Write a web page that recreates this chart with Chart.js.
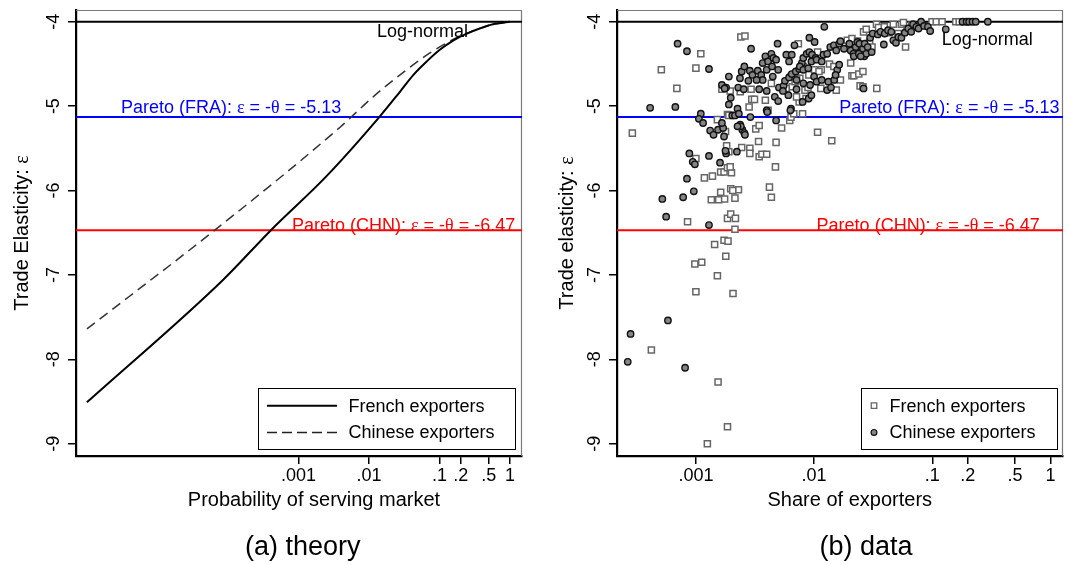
<!DOCTYPE html>
<html>
<head>
<meta charset="utf-8">
<title>Trade elasticity: theory and data</title>
<script src="https://cdn.jsdelivr.net/npm/chart.js@4.4.1/dist/chart.umd.min.js"></script>
<style>
  html, body { margin: 0; padding: 0; background: #ffffff; }
  #wrap { position: relative; width: 1070px; height: 564px; overflow: hidden; }
  canvas { position: absolute; top: 0; }
  #theory { left: 0; }
  #data { left: 540px; }
</style>
</head>
<body>
<div id="wrap">
  <canvas id="theory" width="540" height="564"></canvas>
  <canvas id="data" width="530" height="564"></canvas>
</div>
<script>
// ---- values ---------------------------------------------------------------
// Reference elasticities
const LOG_NORMAL = -4;
const PARETO_FRA = -5.13;
const PARETO_CHN = -6.47;

// Axis ticks
const X_TICKS = [0.001, 0.01, 0.1, 0.2, 0.5, 1];
const X_TICK_LABELS = ['.001', '.01', '.1', '.2', '.5', '1'];
const Y_TICKS = [-9, -8, -7, -6, -5, -4];

// (a) theory: elasticity against probability of serving the market
const THEORY_FR_X = [1e-6, 8.5e-5, 4.07e-4, 0.0025, 0.0140, 0.0275, 0.0427, 0.0661, 0.102, 0.158, 0.245, 0.372, 0.575, 1];
const THEORY_FR_Y = [-8.51, -7.06, -6.47, -5.83, -5.13, -4.83, -4.63, -4.47, -4.33, -4.22, -4.14, -4.08, -4.03, -4.00];
const THEORY_CN_X = [1e-6, 6.5e-5, 0.00389, 0.0122, 0.0307, 0.0733, 0.175, 0.372, 0.575, 1];
const THEORY_CN_Y = [-7.64, -6.47, -5.25, -4.87, -4.60, -4.37, -4.19, -4.08, -4.03, -4.00];

// (b) data: elasticity against share of exporters, French destinations
const DATA_FR_X = [
  0.00029, 0.00051, 0.00069, 0.00100, 0.00110, 0.00240, 0.00260, 0.00085, 0.00100, 0.00098,
  0.00112, 0.00152, 0.00144, 0.00173, 0.00187, 0.00179, 0.00118, 0.00138, 0.00162, 0.00173,
  0.00185, 0.00200, 0.00195, 0.00135, 0.00162, 0.00156, 0.00175, 0.00197, 0.00214, 0.00229,
  0.00205, 0.00185, 0.00197, 0.00216, 0.00214, 0.00182, 0.00190, 0.00244, 0.00286, 0.00286,
  0.00343, 0.00362, 0.00397, 0.00339, 0.00477, 0.00471, 0.00419, 0.00435, 0.0107, 0.0141,
  0.00152, 0.00178, 0.00185, 0.00190, 0.00282, 0.00297, 0.00313, 0.00321, 0.00343, 0.00387,
  0.00435, 0.00408, 0.00166, 0.00293, 0.00237, 0.00195, 0.00531, 0.00622, 0.00638, 0.00799,
  0.00673, 0.00748, 0.00854, 0.00582, 0.00655, 0.00691, 0.00758, 0.00837, 0.00888, 0.00710,
  0.0114, 0.0154, 0.0339, 0.0245, 0.0259, 0.0209, 0.0217, 0.0239, 0.0259, 0.0204,
  0.00736, 0.00810, 0.00903, 0.0101, 0.0107, 0.0115, 0.0110, 0.0135, 0.0147, 0.0167,
  0.0191, 0.0199, 0.0209, 0.0233, 0.0262, 0.0276, 0.0295, 0.0309, 0.0337, 0.0351,
  0.0393, 0.0430, 0.0468, 0.0514, 0.0548, 0.0570, 0.0594, 0.0610, 0.0669, 0.0994,
  0.108, 0.121, 0.158, 0.169, 0.188, 0.00710, 0.00641, 0.00100, 0.00206, 0.00042,
  0.00154, 0.00185, 0.00125
];
const DATA_FR_Y = [
  -5.32, -4.57, -4.79, -4.55, -4.38, -4.18, -4.17, -6.37, -5.62, -6.87,
  -6.85, -7.01, -6.64, -6.59, -6.60, -6.78, -5.85, -5.83, -5.78, -5.78,
  -5.73, -5.79, -5.72, -6.11, -6.02, -6.11, -6.10, -5.98, -6.09, -5.99,
  -6.00, -6.33, -6.28, -6.33, -6.46, -5.47, -5.54, -5.49, -5.50, -5.56,
  -5.60, -5.57, -5.57, -5.42, -5.43, -5.72, -5.96, -6.08, -5.31, -5.41,
  -5.16, -5.30, -5.10, -5.11, -5.01, -4.92, -4.92, -5.27, -5.23, -4.93,
  -4.73, -5.05, -4.80, -4.80, -4.83, -4.82, -5.26, -5.17, -5.13, -5.09,
  -5.09, -4.95, -4.91, -4.79, -4.77, -4.71, -4.67, -4.81, -4.78, -4.89,
  -4.79, -4.81, -4.79, -4.76, -4.77, -4.64, -4.64, -4.62, -4.59, -4.49,
  -4.26, -4.53, -4.63, -4.57, -4.36, -4.57, -4.59, -4.50, -4.53, -4.69,
  -4.22, -4.30, -4.20, -4.23, -4.12, -4.09, -4.24, -4.30, -4.03, -4.07,
  -4.06, -4.13, -4.03, -4.14, -4.03, -4.01, -4.30, -4.09, -4.04, -4.00,
  -4.00, -4.00, -4.00, -4.00, -4.00, -4.67, -4.65, -7.20, -7.22, -7.89,
  -8.27, -8.80, -9.00
];

// (b) data: Chinese destinations
const DATA_CN_X = [
  0.00070, 0.00084, 0.00129, 0.00293, 0.00041, 0.00067, 0.00110, 0.00106, 0.00115, 0.00132,
  0.00141, 0.00154, 0.00170, 0.00173, 0.00166, 0.00088, 0.00129, 0.00094, 0.00098, 0.00084,
  0.00096, 0.00078, 0.00052, 0.00056, 0.00129, 0.00160, 0.00180, 0.00178, 0.00222, 0.00197,
  0.00190, 0.00203, 0.00214, 0.00225, 0.00231, 0.00237, 0.00247, 0.00257, 0.00260, 0.00240,
  0.00225, 0.00289, 0.00166, 0.00180, 0.00190, 0.00175, 0.00236, 0.00244, 0.00257, 0.00286,
  0.00301, 0.00334, 0.00357, 0.00367, 0.00343, 0.00397, 0.00326, 0.00228, 0.00254, 0.00278,
  0.00397, 0.00402, 0.00465, 0.00497, 0.00477, 0.00447, 0.00504, 0.00552, 0.00567, 0.00614,
  0.00647, 0.00700, 0.00748, 0.00788, 0.00810, 0.00865, 0.00912, 0.00961, 0.0103, 0.00367,
  0.00387, 0.00408, 0.00435, 0.00453, 0.00477, 0.00491, 0.00397, 0.00441, 0.00497, 0.00582,
  0.00614, 0.00682, 0.00647, 0.00912, 0.0101, 0.0122, 0.00758, 0.00810, 0.00892, 0.00949,
  0.0105, 0.0116, 0.0120, 0.0129, 0.0137, 0.0147, 0.0154, 0.0163, 0.0167, 0.0179,
  0.00710, 0.00606, 0.00638, 0.00630, 0.00545, 0.00900, 0.00949, 0.00799, 0.00710, 0.00810,
  0.00924, 0.0100, 0.0105, 0.0116, 0.0132, 0.0129, 0.0139, 0.0148, 0.0157, 0.0163,
  0.0152, 0.0199, 0.0204, 0.0215, 0.0225, 0.0233, 0.0242, 0.0248, 0.0259, 0.0268,
  0.0284, 0.0266, 0.0276, 0.0217, 0.0239, 0.0248, 0.0262, 0.0307, 0.0298, 0.0313,
  0.0346, 0.0365, 0.0389, 0.0396, 0.0422, 0.0450, 0.0468, 0.0493, 0.0517, 0.0548,
  0.0586, 0.0626, 0.0663, 0.0688, 0.0733, 0.0765, 0.0804, 0.0852, 0.0918, 0.0960,
  0.130, 0.180, 0.195, 0.205, 0.219, 0.233, 0.295, 0.00058, 0.00028, 0.000265,
  0.00081
];
const DATA_CN_Y = [
  -4.26, -4.35, -4.56, -4.32, -5.02, -5.01, -5.09, -5.15, -5.20, -5.29,
  -5.34, -5.28, -5.26, -5.36, -5.20, -5.56, -5.59, -5.66, -5.69, -5.86,
  -6.01, -6.08, -6.10, -6.31, -6.41, -5.67, -5.56, -5.53, -5.54, -4.90,
  -4.98, -5.11, -5.11, -5.03, -5.09, -5.22, -5.28, -5.32, -5.34, -5.24,
  -5.24, -5.13, -4.75, -4.78, -4.65, -4.79, -4.67, -4.59, -4.53, -4.58,
  -4.63, -4.58, -4.63, -4.69, -4.80, -4.82, -4.69, -4.78, -4.80, -4.70,
  -5.05, -5.07, -4.89, -4.94, -5.17, -4.65, -4.78, -4.76, -4.70, -4.66,
  -4.62, -4.59, -4.56, -4.49, -4.43, -4.38, -4.36, -4.39, -4.43, -4.49,
  -4.41, -4.47, -4.38, -4.43, -4.45, -4.26, -4.57, -4.53, -4.57, -4.39,
  -4.47, -4.28, -4.39, -4.19, -4.24, -4.06, -4.53, -4.57, -4.55, -4.47,
  -4.45, -4.47, -4.39, -4.38, -4.30, -4.28, -4.34, -4.26, -4.23, -4.32,
  -4.80, -4.87, -5.03, -5.05, -4.82, -4.91, -4.87, -4.95, -4.69, -4.73,
  -4.75, -4.65, -4.71, -4.69, -4.71, -4.81, -4.78, -4.69, -4.57, -4.51,
  -4.63, -4.26, -4.34, -4.38, -4.30, -4.24, -4.26, -4.36, -4.32, -4.26,
  -4.30, -4.41, -4.38, -4.41, -4.38, -4.41, -4.79, -4.36, -4.19, -4.14,
  -4.15, -4.12, -4.27, -4.14, -4.10, -4.12, -4.22, -4.25, -4.18, -4.19,
  -4.13, -4.08, -4.12, -4.03, -4.06, -4.08, -4.00, -4.05, -4.06, -4.11,
  -4.09, -4.00, -4.00, -4.00, -4.00, -4.00, -4.00, -7.54, -7.70, -8.03,
  -8.10
];

// ---- styling --------------------------------------------------------------
const SANS = '"Liberation Sans", Arial, Helvetica, sans-serif';
const SERIF = '"Liberation Serif", "Times New Roman", serif';
const BLUE = '#0000ff';
const RED = '#ff0000';
const Y_MIN = -9.146, Y_MAX = -3.861;

const FR_LINE = { color: '#000000', width: 2, dash: [] };
const CN_LINE = { color: '#333333', width: 1.5, dash: [10, 6] };
const FR_MARK = { style: 'rect', radius: 4.3, fill: '#ffffff', stroke: '#666666', width: 1.5 };
const CN_MARK = { style: 'circle', radius: 3.2, fill: '#858585', stroke: '#111111', width: 1.4 };

const toPoints = (xs, ys) => xs.map((x, i) => ({ x, y: ys[i] }));

function refLine(value, color, xmin, xmax) {
  return {
    data: [{ x: xmin, y: value }, { x: xmax, y: value }],
    showLine: true, borderColor: color, borderWidth: 2,
    pointRadius: 0, order: 5
  };
}

function paretoText(tag, value) {
  return [
    { t: 'Pareto (' + tag + '): ', f: SANS },
    { t: 'ε', f: SERIF },
    { t: ' = -', f: SANS },
    { t: 'θ', f: SERIF },
    { t: ' = ' + value.toFixed(2), f: SANS }
  ];
}

function richWidth(ctx, parts, size) {
  let w = 0;
  for (const p of parts) { ctx.font = size + 'px ' + p.f; w += ctx.measureText(p.t).width; }
  return w;
}

function drawRich(ctx, parts, x, y, size, color) {
  ctx.fillStyle = color;
  ctx.textAlign = 'left';
  ctx.textBaseline = 'alphabetic';
  for (const p of parts) {
    ctx.font = size + 'px ' + p.f;
    ctx.fillText(p.t, x, y);
    x += ctx.measureText(p.t).width;
  }
}

function drawMarker(ctx, m, x, y) {
  ctx.save();
  ctx.fillStyle = m.fill; ctx.strokeStyle = m.stroke; ctx.lineWidth = m.width;
  ctx.beginPath();
  if (m.style === 'rect') {
    const h = m.radius * Math.SQRT1_2;
    ctx.rect(x - h, y - h, 2 * h, 2 * h);
  } else {
    ctx.arc(x, y, m.radius, 0, Math.PI * 2);
  }
  ctx.fill(); ctx.stroke();
  ctx.restore();
}

// Frame, rotated y labels, titles, annotations and legend of one panel
function panelDecor(spec) {
  return {
    id: 'panelDecor',
    beforeDatasetsDraw(chart) {
      const { ctx, chartArea: a } = chart;
      ctx.save();
      ctx.strokeStyle = '#7a7a7a';
      ctx.lineWidth = 1.2;
      ctx.beginPath();
      ctx.moveTo(a.left, a.top + 0.5);
      ctx.lineTo(a.right - 0.5, a.top + 0.5);
      ctx.lineTo(a.right - 0.5, a.bottom);
      ctx.stroke();
      ctx.restore();
    },
    afterDraw(chart) {
      const { ctx, chartArea: a } = chart;
      const ys = chart.scales.y;
      ctx.save();

      // y tick labels, read bottom to top
      ctx.fillStyle = '#000';
      ctx.font = '18px ' + SANS;
      ctx.textAlign = 'center';
      ctx.textBaseline = 'alphabetic';
      for (const v of Y_TICKS) {
        const py = ys.getPixelForValue(v);
        ctx.save();
        ctx.translate(a.left - 16.7, py);
        ctx.rotate(-Math.PI / 2);
        ctx.fillText(String(v), 0, 0);
        ctx.restore();
      }

      // y axis title
      const yParts = [{ t: spec.yTitle, f: SANS }, { t: 'ε', f: SERIF }];
      const yw = richWidth(ctx, yParts, 20);
      ctx.save();
      ctx.translate(a.left - spec.yTitleOff, (a.top + a.bottom) / 2);
      ctx.rotate(-Math.PI / 2);
      drawRich(ctx, yParts, -yw / 2, 0, 20, '#000');
      ctx.restore();

      // x axis title and panel caption
      ctx.fillStyle = '#000';
      ctx.textAlign = 'center';
      ctx.textBaseline = 'alphabetic';
      ctx.font = '20px ' + SANS;
      ctx.fillText(spec.xTitle, spec.xTitleX, 505.5);
      ctx.font = '27px ' + SANS;
      ctx.fillText(spec.caption, spec.captionX, 555);

      // reference line labels
      const yFra = ys.getPixelForValue(PARETO_FRA);
      const yChn = ys.getPixelForValue(PARETO_CHN);
      const yLog = ys.getPixelForValue(LOG_NORMAL);
      drawRich(ctx, paretoText('FRA', PARETO_FRA), spec.fraX, yFra - 4.5, 18, BLUE);
      drawRich(ctx, paretoText('CHN', PARETO_CHN), spec.chnX, yChn + 1, 18, RED);
      drawRich(ctx, [{ t: 'Log-normal', f: SANS }], spec.logX, yLog + spec.logDy, 18, '#000');

      // legend
      const L = spec.legend;
      ctx.strokeStyle = '#000';
      ctx.lineWidth = 1;
      ctx.strokeRect(L.x + 0.5, L.y + 0.5, L.w, L.h);
      const rows = [L.y + 17.7, L.y + 44.4];
      L.items.forEach((it, i) => {
        const ry = rows[i];
        if (it.line) {
          ctx.save();
          ctx.strokeStyle = it.line.color;
          ctx.lineWidth = it.line.width;
          ctx.setLineDash(it.line.dash);
          ctx.beginPath();
          ctx.moveTo(L.sx0, ry);
          ctx.lineTo(L.sx1, ry);
          ctx.stroke();
          ctx.restore();
        } else {
          drawMarker(ctx, it.mark, L.sx0, ry);
        }
        ctx.fillStyle = '#000';
        ctx.font = '18px ' + SANS;
        ctx.textAlign = 'left';
        ctx.textBaseline = 'middle';
        ctx.fillText(it.label, L.tx, ry + 1);
      });
      ctx.restore();
    }
  };
}

function baseOptions(xmin, xmax, padRight, axisWidth) {
  return {
    responsive: false,
    animation: false,
    devicePixelRatio: 1,
    layout: { autoPadding: false, padding: { left: 0, top: 10, right: padRight, bottom: 0 } },
    plugins: { legend: { display: false }, tooltip: { enabled: false }, title: { display: false } },
    scales: {
      x: {
        type: 'logarithmic', position: 'bottom', min: xmin, max: xmax,
        afterBuildTicks: s => { s.ticks = X_TICKS.map(v => ({ value: v })); },
        afterFit: s => { s.height = 108; },
        ticks: {
          autoSkip: false, maxRotation: 0, minRotation: 0, padding: 1,
          color: '#000', font: { family: SANS, size: 18 },
          callback: v => X_TICK_LABELS[X_TICKS.indexOf(v)]
        },
        grid: { display: true, drawOnChartArea: false, drawTicks: true, tickLength: 8, color: '#000', lineWidth: 1.5 },
        border: { display: true, color: '#000', width: 2.2 }
      },
      y: {
        type: 'linear', position: 'left', min: Y_MIN, max: Y_MAX,
        afterBuildTicks: s => { s.ticks = Y_TICKS.map(v => ({ value: v })); },
        afterFit: s => { s.width = axisWidth; },
        ticks: { display: false },
        grid: { display: true, drawOnChartArea: false, drawTicks: true, tickLength: 8, color: '#000', lineWidth: 1.5 },
        border: { display: true, color: '#000', width: 2.2 }
      }
    }
  };
}

// ---- (a) theory -----------------------------------------------------------
const TH_XMIN = 7.0e-7, TH_XMAX = 1.48;
new Chart(document.getElementById('theory'), {
  type: 'scatter',
  data: {
    datasets: [
      {
        label: 'French exporters', data: toPoints(THEORY_FR_X, THEORY_FR_Y),
        showLine: true, borderColor: FR_LINE.color, borderWidth: FR_LINE.width,
        pointRadius: 0, cubicInterpolationMode: 'monotone', order: 1
      },
      {
        label: 'Chinese exporters', data: toPoints(THEORY_CN_X, THEORY_CN_Y),
        showLine: true, borderColor: CN_LINE.color, borderWidth: CN_LINE.width,
        borderDash: CN_LINE.dash, pointRadius: 0, cubicInterpolationMode: 'monotone', order: 2
      },
      refLine(LOG_NORMAL, '#000000', TH_XMIN, TH_XMAX),
      refLine(PARETO_FRA, BLUE, TH_XMIN, TH_XMAX),
      refLine(PARETO_CHN, RED, TH_XMIN, TH_XMAX)
    ]
  },
  options: baseOptions(TH_XMIN, TH_XMAX, 18, 76),
  plugins: [panelDecor({
    yTitle: 'Trade Elasticity: ', yTitleOff: 47.7,
    xTitle: 'Probability of serving market',
    xTitleX: 314, caption: '(a) theory', captionX: 302.7,
    fraX: 121, chnX: 292, logX: 377, logDy: 15,
    legend: {
      x: 258, y: 388, w: 257, h: 61, sx0: 267, sx1: 337, tx: 348.5,
      items: [
        { label: 'French exporters', line: FR_LINE },
        { label: 'Chinese exporters', line: { color: '#222222', width: 1.5, dash: [10, 5] } }
      ]
    }
  })]
});

// ---- (b) data -------------------------------------------------------------
const DA_XMIN = 2.15e-4, DA_XMAX = 1.276;
new Chart(document.getElementById('data'), {
  type: 'scatter',
  data: {
    datasets: [
      {
        label: 'Chinese exporters', data: toPoints(DATA_CN_X, DATA_CN_Y),
        pointStyle: CN_MARK.style, pointRadius: CN_MARK.radius,
        backgroundColor: CN_MARK.fill, borderColor: CN_MARK.stroke, borderWidth: CN_MARK.width,
        order: 1
      },
      {
        label: 'French exporters', data: toPoints(DATA_FR_X, DATA_FR_Y),
        pointStyle: FR_MARK.style, pointRadius: FR_MARK.radius,
        backgroundColor: FR_MARK.fill, borderColor: FR_MARK.stroke, borderWidth: FR_MARK.width,
        order: 2
      },
      refLine(LOG_NORMAL, '#000000', DA_XMIN, DA_XMAX),
      refLine(PARETO_FRA, BLUE, DA_XMIN, DA_XMAX),
      refLine(PARETO_CHN, RED, DA_XMIN, DA_XMAX)
    ]
  },
  options: baseOptions(DA_XMIN, DA_XMAX, 7, 77),
  plugins: [panelDecor({
    yTitle: 'Trade elasticity: ', yTitleOff: 44,
    xTitle: 'Share of exporters',
    xTitleX: 309.8, caption: '(b) data', captionX: 326,
    fraX: 299.3, chnX: 276.6, logX: 401.7, logDy: 23.5,
    legend: {
      x: 321, y: 388, w: 196, h: 61, sx0: 334, sx1: 334, tx: 349.4,
      items: [
        { label: 'French exporters', mark: { style: 'rect', radius: 3.9, fill: '#ffffff', stroke: '#666666', width: 1.3 } },
        { label: 'Chinese exporters', mark: { style: 'circle', radius: 2.9, fill: '#858585', stroke: '#111111', width: 1.2 } }
      ]
    }
  })]
});
</script>
</body>
</html>
